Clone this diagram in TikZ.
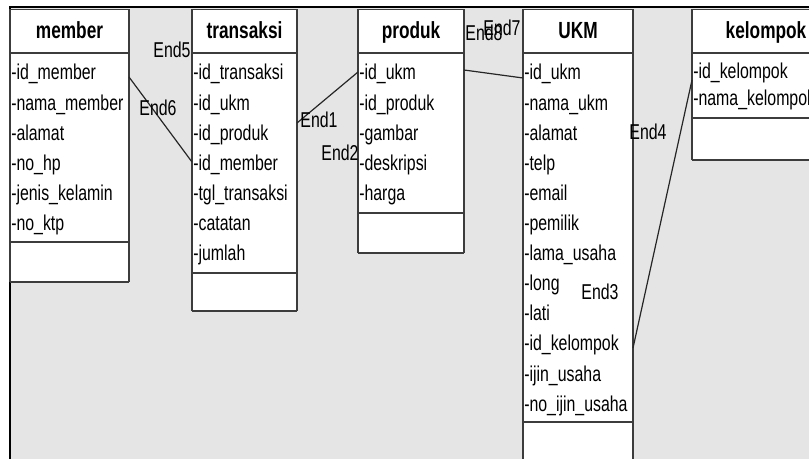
\documentclass[tikz,border=0pt]{standalone}
\usepackage{fontspec}
\setmainfont{Liberation Sans}[FakeStretch=0.74]
\definecolor{bg}{RGB}{229,229,229}
\definecolor{edge}{RGB}{60,60,60}
\newcommand\erbox[6]{%
  \path[fill=white] (#2,9) rectangle (#3,#5);
  \draw[side] (#2,#5) -- (#2,9.5) -- (#3,9.5) -- (#3,#5);
  \draw[sep] (#2,53) -- (#3,53);
  \draw[sep] (#2,#4) -- (#3,#4);
  \draw[sep] (#2,#5) -- (#3,#5);
  \node[hdr] (#1) at ({(#2+#3)/2},39) {#6};
}
\begin{document}
\begin{tikzpicture}[x=0.75pt,y=-0.75pt,
  side/.style={draw=edge, line width=1.1pt},
  sep/.style={draw=edge, line width=2.2pt},
  hdr/.style={font=\bfseries\fontsize{17.5pt}{19pt}\selectfont, inner sep=0pt, anchor=base},
  attr/.style={font=\fontsize{16.1pt}{19pt}\selectfont, inner sep=0pt, anchor=base west},
  lbl/.style={font=\fontsize{16.1pt}{19pt}\selectfont, inner sep=0pt},
  conn/.style={draw=black!85, line width=0.9pt}]
\useasboundingbox (0,0) rectangle (809,459);
\fill[white] (0,0) rectangle (809,459);
\fill[bg] (9,7) rectangle (809,459);
\draw[black, line width=1.5pt] (9.5,459) -- (9.5,7.5) -- (809,7.5);

% boxes
\erbox{member}{10}{129}{242}{282}{member}
\foreach \t [count=\i from 0] in {id\_member,nama\_member,alamat,no\_hp,jenis\_kelamin,no\_ktp}
  \node[attr] (member-\i) at (11,80+30.1*\i) {-\t};

\erbox{transaksi}{192}{297}{273}{311}{transaksi}
\foreach \t [count=\i from 0] in {id\_transaksi,id\_ukm,id\_produk,id\_member,tgl\_transaksi,catatan,jumlah}
  \node[attr] (transaksi-\i) at (193,80+30.1*\i) {-\t};

\erbox{produk}{358}{464}{213}{253}{produk}
\foreach \t [count=\i from 0] in {id\_ukm,id\_produk,gambar,deskripsi,harga}
  \node[attr] (produk-\i) at (359,80+30.1*\i) {-\t};

\erbox{ukm}{523}{633}{422}{475}{UKM}
\foreach \t [count=\i from 0] in {id\_ukm,nama\_ukm,alamat,telp,email,pemilik,lama\_usaha,long,lati,id\_kelompok,ijin\_usaha,no\_ijin\_usaha}
  \node[attr] (ukm-\i) at (524,80+30.1*\i) {-\t};

\erbox{kelompok}{692}{840}{118}{160}{kelompok}
\foreach \t [count=\i from 0] in {id\_kelompok,nama\_kelompok}
  \node[attr] (kelompok-\i) at (693,79+27*\i) {-\t};

% connector end points
\coordinate (p1a) at (129,77);
\coordinate (p1b) at (192,162);
\coordinate (p2a) at (297,123);
\coordinate (p2b) at (358,72);
\coordinate (p3a) at (464,70);
\coordinate (p3b) at (523,78);
\coordinate (p4a) at (633,348);
\coordinate (p4b) at (692,80);

\draw[conn] (p1a) -- (p1b);
\draw[conn] (p2a) -- (p2b);
\draw[conn] (p3a) -- (p3b);
\draw[conn] (p4a) -- (p4b);

% end labels
\node[lbl] (e5) at (172,50) {End5};
\node[lbl] (e6) at (158,108) {End6};
\node[lbl] (e1) at (319,120) {End1};
\node[lbl] (e2) at (340,153) {End2};
\node[lbl] (e8) at (484,33) {End8};
\node[lbl] (e7) at (502,28) {End7};
\node[lbl] (e4) at (648,132) {End4};
\node[lbl] (e3) at (600,292) {End3};
\end{tikzpicture}
\end{document}
